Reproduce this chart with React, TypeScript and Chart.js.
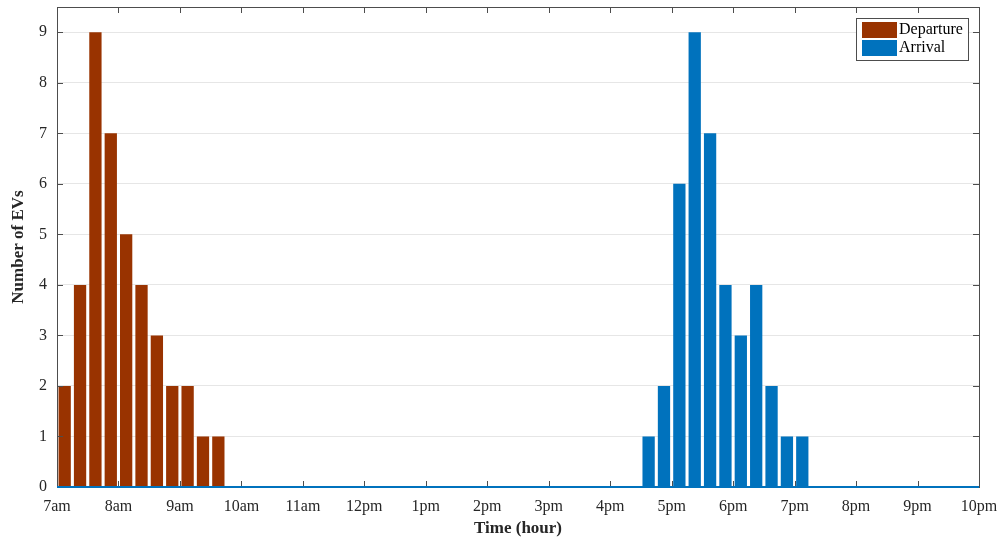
import React, { useEffect, useRef } from "react";
import { Chart, registerables } from "chart.js";
Chart.register(...registerables);

// quarter-hour bins from 7:00 (bin index 0) to 22:00 (bin 60)
const hourLabels = ["7am","8am","9am","10am","11am","12pm","1pm","2pm","3pm","4pm","5pm","6pm","7pm","8pm","9pm","10pm"];
const departureStartBin = 0; // 7:00
const departureValues = [2, 4, 9, 7, 5, 4, 3, 2, 2, 1, 1];
const arrivalStartBin = 38; // 16:30
const arrivalValues = [1, 2, 6, 9, 7, 4, 3, 4, 2, 1, 1];
const baselineValues = [0, 0];
const totalBins = 60;
const yTicks = [0, 1, 2, 3, 4, 5, 6, 7, 8, 9];

const DEP_COLOR = "#993300";
const ARR_COLOR = "#0072BD";
const AXIS_COLOR = "#4d4d4d";
const FONT = "'Liberation Serif', 'Times New Roman', serif";

const framePlugin = {
  id: "frame",
  afterDatasetsDraw(chart: any) {
    const { ctx, chartArea: a, scales } = chart;
    const x = scales.x, y = scales.y;
    ctx.save();
    ctx.strokeStyle = AXIS_COLOR;
    ctx.lineWidth = 1;
    const L = 6;
    ctx.beginPath();
    for (let i = 0; i <= totalBins; i += 4) {
      const px = Math.round(x.getPixelForValue(i)) + 0.5;
      ctx.moveTo(px, a.bottom); ctx.lineTo(px, a.bottom - L);
      ctx.moveTo(px, a.top); ctx.lineTo(px, a.top + L);
    }
    for (const v of yTicks) {
      const py = Math.round(y.getPixelForValue(v)) + 0.5;
      ctx.moveTo(a.left, py); ctx.lineTo(a.left + L, py);
      ctx.moveTo(a.right, py); ctx.lineTo(a.right - L, py);
    }
    ctx.stroke();
    ctx.strokeRect(Math.round(a.left) + 0.5, Math.round(a.top) + 0.5, Math.round(a.right - a.left), Math.round(a.bottom - a.top));
    // baseline redraw on top
    ctx.strokeStyle = ARR_COLOR;
    ctx.lineWidth = 2;
    ctx.beginPath();
    const by = y.getPixelForValue(baselineValues[0]);
    ctx.moveTo(a.left, by);
    ctx.lineTo(a.right, by);
    ctx.stroke();

    // legend
    const items = chart.data.datasets.filter((d: any) => d.type !== "line");
    const bx = a.right - 123, byy = a.top + 11, bw = 112, bh = 42;
    ctx.fillStyle = "#fff";
    ctx.fillRect(bx, byy, bw, bh);
    ctx.strokeStyle = AXIS_COLOR;
    ctx.lineWidth = 1;
    ctx.strokeRect(bx + 0.5, byy + 0.5, bw, bh);
    ctx.font = `16px ${FONT}`;
    ctx.textBaseline = "middle";
    items.forEach((d: any, i: number) => {
      const sy = byy + 4 + i * 18;
      ctx.fillStyle = d.backgroundColor;
      ctx.fillRect(bx + 6, sy, 35, 16);
      ctx.fillStyle = "#000";
      ctx.fillText(d.label, bx + 43, sy + 8);
    });
    ctx.restore();
  },
};

export default function App() {
  const ref = useRef<HTMLCanvasElement>(null);
  useEffect(() => {
    document.body.style.margin = "0";
    const dep = departureValues.map((v, i) => ({ x: departureStartBin + i + 0.5, y: v }));
    const arr = arrivalValues.map((v, i) => ({ x: arrivalStartBin + i + 0.5, y: v }));
    const chart = new Chart(ref.current!, {
      type: "bar",
      data: {
        datasets: [
          { label: "Departure", data: dep, backgroundColor: DEP_COLOR, barPercentage: 0.8, categoryPercentage: 1, grouped: false } as any,
          { label: "Arrival", data: arr, backgroundColor: ARR_COLOR, barPercentage: 0.8, categoryPercentage: 1, grouped: false } as any,
          { type: "line", label: "base", data: [{ x: 0, y: baselineValues[0] }, { x: totalBins, y: baselineValues[1] }], borderColor: ARR_COLOR, borderWidth: 2, pointRadius: 0 } as any,
        ],
      },
      options: {
        animation: false,
        responsive: false,
        maintainAspectRatio: false,
        layout: { padding: { top: 7, right: 23, left: 0, bottom: 0 } },
        plugins: { legend: { display: false }, tooltip: { enabled: false } },
        scales: {
          x: {
            type: "linear",
            min: 0,
            max: totalBins,
            offset: false,
            grid: { display: false, drawTicks: false, offset: false } as any,
            border: { display: false },
            ticks: {
              stepSize: 4,
              autoSkip: false,
              maxRotation: 0,
              padding: 10,
              color: "#262626",
              font: { family: FONT, size: 16 },
              callback: (v: any) => hourLabels[Math.round(v / 4)] ?? "",
            },
            title: { display: true, text: "Time (hour)", color: "#262626", font: { family: FONT, size: 17, weight: "bold" }, padding: { top: 0, bottom: 0 } },
            afterFit: (s: any) => { s.height = 52; s.paddingLeft = 0; s.paddingRight = 0; },
          },
          y: {
            min: 0,
            max: 9.5,
            grid: { color: "#e6e6e6", drawTicks: false },
            border: { display: false },
            afterBuildTicks: (s: any) => { s.ticks = yTicks.map((v) => ({ value: v })); },
            ticks: { padding: 10, color: "#262626", font: { family: FONT, size: 16 } },
            title: { display: true, text: "Number of EVs", color: "#262626", font: { family: FONT, size: 17, weight: "bold" }, padding: { top: 8, bottom: 0 } },
            afterFit: (s: any) => { s.width = 57; s.paddingTop = 0; s.paddingBottom = 0; },
          },
        },
      },
      plugins: [framePlugin],
    });
    return () => chart.destroy();
  }, []);
  return (
    <div style={{ width: 1002, height: 539 }}>
      <canvas ref={ref} width={1002} height={539} style={{ display: "block" }} />
    </div>
  );
}
